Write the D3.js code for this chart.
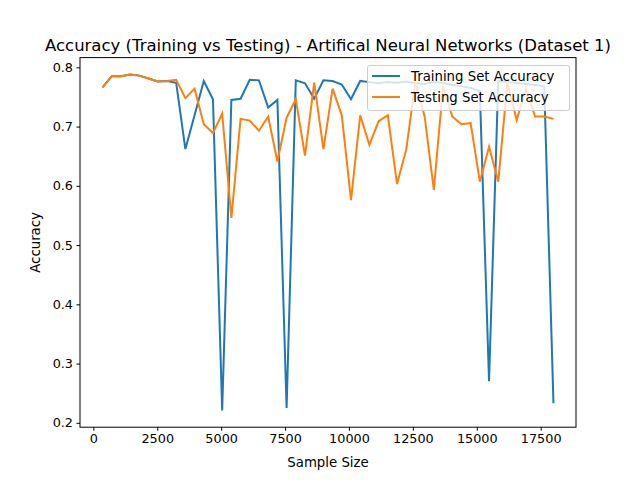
<!DOCTYPE html>
<html><head><meta charset="utf-8">
<script src="https://cdn.jsdelivr.net/npm/d3@7"></script>
<style>body{margin:0;background:#fff}text{font-family:"DejaVu Sans",sans-serif}</style>
</head><body><svg id="c" width="640" height="480"></svg>
<script>
const sampleSizes = d3.range(1, 51).map(i => i * 360);
const trainAcc = [.766,.785,.785,.788,.786,.781,.776,.777,.774,.662,.719,.777,.746,.221,.745,.747,.779,.778,.732,.745,.225,.778,.773,.747,.778,
  .777,.771,.746,.777,.775,.773,.775,.774,.776,.773,.772,.775,.774,.770,.768,.765,.760,.270,.777,.775,.774,.772,.770,.768,.233];
const testAcc = [.766,.785,.785,.788,.786,.781,.776,.777,.779,.748,.764,.704,.689,.722,.546,.713,.710,.693,.717,.641,.715,.746,.651,.774,.662,
  .764,.719,.576,.719,.669,.709,.719,.603,.661,.775,.717,.593,.767,.717,.704,.706,.607,.666,.607,.775,.711,.764,.717,.717,.713];
const xTicks = [0,2500,5000,7500,10000,12500,15000,17500];
const yTicks = [0.2,0.3,0.4,0.5,0.6,0.7,0.8];

const svg = d3.select("#c");
const L=80,R=576,T=57.6,B=427.2;
const x = d3.scaleLinear().domain([-522,18882]).range([L,R]);
const y = d3.scaleLinear().domain([0.1926,0.8164]).range([B,T]);

const xa = svg.append("g").attr("transform",`translate(0,${B})`).call(d3.axisBottom(x).tickValues(xTicks).tickFormat(d3.format("d")).tickSizeOuter(0).tickSize(3.5).tickPadding(3.5));
const ya = svg.append("g").attr("transform",`translate(${L},0)`).call(d3.axisLeft(y).tickValues(yTicks).tickFormat(d3.format(".1f")).tickSizeOuter(0).tickSize(3.5).tickPadding(3.5));
[xa,ya].forEach(a=>{a.select(".domain").remove();a.selectAll("text").attr("font-size",12.8).attr("fill","#000").style("font-family","DejaVu Sans");a.selectAll("line").attr("stroke","#000");});

const line = d3.line().x((d,i)=>x(sampleSizes[i])).y(d=>y(d));
svg.append("path").datum(trainAcc).attr("d",line).attr("fill","none").attr("stroke","#1f77b4").attr("stroke-width",2);
svg.append("path").datum(testAcc).attr("d",line).attr("fill","none").attr("stroke","#ff7f0e").attr("stroke-width",2);

svg.append("rect").attr("x",L).attr("y",T).attr("width",R-L).attr("height",B-T).attr("fill","none").attr("stroke","#000").attr("stroke-width",1);

svg.append("text").attr("x",(L+R)/2).attr("y",T-7).attr("text-anchor","middle").attr("font-size",16.5).text("Accuracy (Training vs Testing) - Artifical Neural Networks (Dataset 1)");
svg.append("text").attr("x",(L+R)/2).attr("y",467).attr("text-anchor","middle").attr("font-size",13.3).text("Sample Size");
svg.append("text").attr("transform",`translate(40,${(T+B)/2}) rotate(-90)`).attr("text-anchor","middle").attr("font-size",13.3).text("Accuracy");

const lg = svg.append("g");
lg.append("rect").attr("x",367.5).attr("y",65.5).attr("width",202).attr("height",45).attr("rx",2).attr("fill","#fff").attr("fill-opacity",0.8).attr("stroke","#ccc");
[["Training Set Accuracy","#1f77b4"],["Testing Set Accuracy","#ff7f0e"]].forEach((e,i)=>{
  const yy=76+i*21;
  lg.append("line").attr("x1",372).attr("x2",400).attr("y1",yy).attr("y2",yy).attr("stroke",e[1]).attr("stroke-width",2);
  lg.append("text").attr("x",411).attr("y",yy+5).attr("font-size",13.3).text(e[0]);
});
</script></body></html>
